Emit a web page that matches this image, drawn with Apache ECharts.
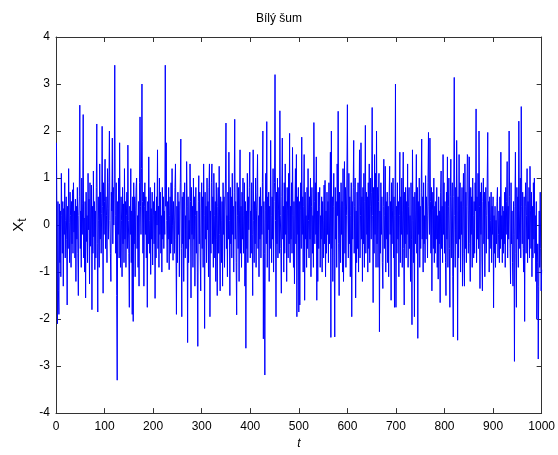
<!DOCTYPE html>
<html>
<head>
<meta charset="utf-8">
<script src="https://cdn.jsdelivr.net/npm/echarts@6/dist/echarts.min.js"></script>
<style>html,body{margin:0;padding:0;background:#fff}#c{width:558px;height:455px}</style>
</head>
<body>
<div id="c"></div>
<script>
var titleText = 'Bílý šum';
var xTicks = [0,100,200,300,400,500,600,700,800,900,1000];
var yTicks = [-4,-3,-2,-1,0,1,2,3,4];
var xt = [
1.75,-0.4,-2.1,0.5,-1.4,-1.9,0.45,-0.8,0.3,-1.1,1.1,0.2,-0.6,0.5,-1.3,0.35,-0.2,0.9,-0.7,0.1,
0.6,-0.3,-1.7,0.4,-0.5,1.2,0.05,-0.8,0.7,0.2,-0.9,0.5,-0.4,0.75,-0.6,0.9,-0.15,0.3,-0.7,0.55,
-1.2,0.4,-0.3,0.8,-0.6,-1.5,0.2,0.6,2.55,-0.5,0.3,-0.9,1.0,-0.2,0.45,2.35,-0.7,0.15,-1.0,0.5,
-1.55,0.7,-0.35,0.2,-0.8,1.1,-0.1,0.55,-1.25,0.9,-0.45,0.3,0.85,-1.8,0.4,-0.6,1.15,-0.25,0.5,-0.95,
0.3,-0.7,0.8,2.15,-0.4,-1.85,0.6,0.1,-0.9,1.3,-0.3,0.7,-0.6,0.25,2.1,0.4,-1.45,0.9,-0.2,0.5,
1.4,-0.5,0.6,0.2,-0.8,1.2,0.35,-0.3,0.9,2.0,0.1,-0.6,-1.2,0.7,0.3,1.85,-0.4,0.8,0.0,1.0,
3.4,0.2,-0.6,0.9,-1.5,-3.3,0.5,-0.2,1.0,-0.7,1.75,0.3,-0.9,0.6,0.1,-1.1,0.8,-0.4,0.45,-0.8,
1.2,-0.3,0.5,-0.9,0.2,0.7,-0.5,1.7,0.1,-0.6,-1.75,0.4,-0.2,1.2,-0.8,0.3,-1.9,0.6,-2.05,0.9,
-0.4,0.6,-1.1,0.3,0.8,1.0,-0.5,0.2,-0.9,0.5,-1.3,0.9,2.3,0.4,-0.2,1.2,3.0,0.5,-0.6,0.7,
-1.3,0.4,0.9,-0.2,0.6,-0.7,0.3,-1.75,0.5,-0.4,1.45,0.1,-0.6,0.8,-1.05,0.35,-0.3,0.7,-0.85,0.2,
0.5,-0.4,0.9,-1.56,0.3,-0.7,0.6,0.0,1.6,-0.5,0.4,-0.9,1.0,-0.2,0.7,-0.6,0.2,-1.0,0.8,-0.3,
0.6,-0.5,0.3,-0.2,3.4,0.4,1.75,0.1,-0.8,0.5,-0.3,0.8,-0.95,0.2,0.6,-0.6,0.9,-0.4,1.2,0.0,
-0.75,0.5,0.1,-0.6,0.8,1.3,-0.3,-1.9,0.4,-0.8,0.7,-0.2,0.5,-1.1,0.3,0.9,1.83,-0.5,-1.95,0.6,
-0.4,0.7,-1.2,0.3,0.9,-0.7,0.2,-0.5,1.35,0.4,-2.5,0.6,-0.8,0.1,-0.3,1.3,0.5,-1.55,0.8,-0.2,
0.4,-0.9,1.0,-0.3,0.6,-1.3,0.2,0.8,-0.6,0.3,-1.0,-2.58,0.5,1.05,-0.4,0.7,-0.7,-1.4,0.3,0.9,
-0.5,0.6,-0.9,1.3,0.2,-2.2,0.7,-0.3,0.4,-0.8,1.0,-0.1,0.5,-1.1,0.8,1.3,-1.95,0.3,-0.6,0.9,
1.3,-0.4,0.6,-0.9,1.1,0.2,-0.7,0.5,-1.2,0.9,-0.3,-1.5,0.4,0.8,-0.6,1.25,-0.2,-1.4,0.6,0.1,
-0.8,0.5,-1.3,0.9,-0.2,0.6,-0.9,0.3,1.0,2.17,-0.5,0.2,-1.1,0.7,-0.3,1.55,0.1,-1.5,0.8,-0.4,
0.6,-0.7,1.1,-0.2,0.4,-1.0,0.7,2.25,-0.3,0.5,-0.8,-1.91,0.9,0.2,-0.5,0.8,-1.2,0.3,1.6,-0.6,
0.4,-0.9,0.7,-0.3,1.0,-0.6,0.2,0.9,-1.3,0.5,-2.62,0.3,-0.5,1.1,-0.8,0.6,-0.1,0.8,1.55,-0.7,
0.3,-0.6,0.9,-0.2,-1.5,1.6,0.1,-0.8,0.5,-0.4,1.0,-0.9,0.3,0.7,1.5,-0.5,0.2,-1.1,0.6,-0.3,
0.8,-0.7,0.4,-0.2,0.9,2.0,-2.42,0.5,-0.6,-3.19,0.3,1.1,-0.4,2.2,-0.9,0.6,-0.1,0.7,-1.2,0.4,
-0.5,1.8,0.2,-0.8,0.6,-0.3,1.2,-1.0,0.5,0.9,3.2,0.1,-1.95,0.7,-0.4,1.0,-0.7,0.3,0.8,-0.6,
2.43,0.2,-0.5,-1.45,0.6,1.85,-0.3,0.4,-1.0,0.9,-0.6,1.3,-0.2,0.5,-1.2,0.8,0.3,-0.7,1.1,-0.4,
1.95,-0.8,0.4,-0.3,0.9,-0.6,1.65,0.2,-0.9,0.5,-1.25,0.3,1.2,-0.4,1.5,-1.95,0.6,-0.2,0.8,-1.85,
0.5,-1.7,0.3,0.9,-0.5,1.87,-0.2,0.6,-1.0,0.4,1.5,-1.6,0.7,-0.3,0.2,-0.9,0.8,-0.5,1.2,0.1,
-0.7,0.6,-0.3,1.0,-1.1,0.4,0.8,-0.6,0.2,-0.9,2.18,0.5,-0.4,0.9,-0.2,1.45,-1.6,0.3,-1.2,0.7,
-0.5,0.4,0.8,-0.9,0.2,-0.3,0.6,-1.0,0.5,0.1,-0.7,0.85,-0.4,0.95,-1.1,0.3,-0.6,0.7,-0.2,0.5,
-0.8,0.9,-0.4,0.3,1.55,-2.39,2.0,-0.5,0.6,-1.2,0.4,1.1,-0.7,-2.38,0.8,-0.3,0.5,-0.9,1.3,0.2,
2.42,-0.4,-1.5,0.7,0.3,-0.8,0.9,-0.2,0.5,-1.0,1.2,-1.2,0.4,1.35,-0.6,0.8,-0.9,0.2,1.0,2.56,
0.3,-0.7,1.1,-0.4,0.6,-1.1,0.2,0.9,-1.95,0.5,-0.3,0.8,1.8,-0.6,0.4,1.0,-1.55,0.3,-0.8,0.7,
-0.5,0.9,-1.0,0.4,1.6,-0.7,0.2,1.75,-0.3,0.6,-1.2,0.8,-0.4,1.1,-0.9,0.5,2.12,-0.6,0.7,-0.2,
0.6,-1.0,0.9,-0.5,1.3,-0.8,0.4,1.0,-0.3,0.7,2.5,0.2,-1.65,0.8,-0.6,1.5,-0.2,1.1,-0.9,2.0,
-0.4,0.8,-0.9,0.5,1.1,-2.27,0.3,-0.6,0.9,-0.2,0.6,-0.8,-1.35,0.4,1.4,-0.5,0.2,1.25,-1.0,0.5,
-0.3,0.7,-0.8,0.4,-1.1,0.6,1.25,-0.2,0.5,-1.6,0.9,-0.4,0.3,1.0,-0.7,0.6,-1.75,0.2,3.0,-1.75,
0.4,-0.6,0.9,-0.3,0.5,-1.1,0.2,1.55,-0.8,0.6,-0.2,1.0,-0.9,0.3,1.55,-0.5,-1.7,0.7,-0.4,0.8,
-0.7,0.5,-0.2,1.3,-0.9,0.4,0.8,-0.5,0.2,-1.2,0.9,-0.3,-2.12,1.6,0.1,-0.8,0.6,-1.95,0.7,-0.4,
0.3,1.5,-0.6,0.8,-2.41,0.5,-0.2,1.0,-0.9,0.4,-0.5,0.7,1.83,-0.3,0.6,-1.0,0.9,-0.4,0.2,-0.8,
1.05,-0.3,0.6,0.2,-0.7,0.9,1.97,0.4,-0.2,1.85,0.5,-0.6,0.8,-1.4,0.3,0.7,-0.5,1.0,-0.8,0.4,
-0.6,0.5,-0.3,0.8,-0.9,0.2,-1.15,0.6,-0.4,0.3,-1.65,0.7,1.15,-0.5,0.4,-0.8,1.5,-0.2,0.9,-0.6,
0.5,-0.8,-1.5,0.7,-0.3,1.45,-0.9,0.4,1.0,-0.5,-1.75,0.6,1.4,-0.7,0.3,0.9,-1.1,-2.38,0.6,3.14,
0.2,-0.9,0.8,-0.4,1.8,0.3,-2.45,0.6,-0.7,1.5,-0.3,0.9,-1.0,0.5,-0.2,0.8,-1.3,0.4,1.1,-0.6,
-1.3,1.3,-0.5,0.7,-0.8,0.4,1.5,1.45,-0.6,0.3,1.45,-0.4,-1.2,0.8,-0.2,0.6,-0.9,1.0,0.2,-0.7,
0.5,-0.6,0.9,0.3,2.47,-0.8,0.6,-0.3,1.1,-0.5,2.0,0.4,-1.35,0.7,-0.2,0.9,-0.7,-1.4,0.5,1.0,
-0.4,0.7,-1.1,0.3,0.8,-0.6,0.2,1.0,1.97,-0.3,0.5,-1.0,0.6,-0.5,0.1,0.7,-0.8,0.4,-0.2,0.6,
-1.76,0.2,-0.6,0.4,-0.9,0.1,-0.4,0.5,0.8,-0.7,-0.2,0.3,-0.8,0.6,-0.5,1.55,-0.3,0.2,-0.8,0.4,
-0.6,0.3,-0.4,0.7,-0.9,0.8,-0.2,0.5,1.35,-0.7,0.4,-0.3,2.0,0.6,-0.5,-1.25,0.9,-0.4,0.3,-0.8,
-1.3,0.5,-0.2,-2.9,0.4,1.55,-0.6,-1.75,0.8,-0.3,0.6,-0.9,2.21,0.3,-0.5,1.0,-0.7,2.52,0.4,-0.4,
0.7,-0.5,-1.0,0.6,-2.05,0.4,0.9,-0.6,0.2,1.2,-0.8,0.5,-0.3,0.8,-0.7,1.25,0.3,-0.5,0.7,-1.1,
0.4,-0.7,0.9,-0.3,1.0,-0.6,0.2,-1.2,0.5,-2.0,-0.8,-0.4,-2.85,-1.3,0.3,-0.9,0.7,-0.5,-1.4,-0.95
];

var seriesData = xt.map(function (v, i) { return [i + 1, v]; });
var lab = { color: '#000', fontFamily: "'Liberation Sans Narrow', 'Liberation Sans', Arial, sans-serif", fontSize: 12 };
var axisCol = '#333';
function plain(v) { return String(v); }
function xa(pos, show) {
  return {
    type: 'value', position: pos, min: xTicks[0], max: xTicks[xTicks.length - 1], interval: 100,
    axisLine: { show: true, onZero: false, lineStyle: { color: axisCol, width: 1 } },
    axisTick: { show: true, inside: true, length: 5, lineStyle: { color: axisCol } },
    axisLabel: Object.assign({ show: show, margin: 8, formatter: plain }, lab),
    splitLine: { show: false }
  };
}
function ya(pos, show) {
  return {
    type: 'value', position: pos, min: yTicks[0], max: yTicks[yTicks.length - 1], interval: 1,
    axisLine: { show: true, onZero: false, lineStyle: { color: axisCol, width: 1 } },
    axisTick: { show: true, inside: true, length: 5, lineStyle: { color: axisCol } },
    axisLabel: Object.assign({ show: show, margin: 6, formatter: plain }, lab),
    splitLine: { show: false }
  };
}
var xBottom = xa('bottom', true);
xBottom.name = 't';
xBottom.nameLocation = 'middle';
xBottom.nameGap = 20;
xBottom.nameTextStyle = { color: '#000', fontStyle: 'italic', fontSize: 12, fontFamily: "'Liberation Sans', Arial, sans-serif" };
var yLeft = ya('left', true);
yLeft.name = '{x|X}{s|t}';
yLeft.nameLocation = 'middle';
yLeft.nameGap = 26;
yLeft.nameTextStyle = {
  color: '#000', fontFamily: "'Liberation Sans', Arial, sans-serif",
  rich: {
    x: { fontSize: 15, color: '#000', fontFamily: "'Liberation Sans', Arial, sans-serif" },
    s: { fontSize: 12, color: '#000', verticalAlign: 'bottom', padding: [8, 0, 0, 0], fontFamily: "'Liberation Sans', Arial, sans-serif" }
  }
};
var chart = echarts.init(document.getElementById('c'), null, { renderer: 'canvas' });
chart.setOption({
  animation: false,
  backgroundColor: '#fff',
  title: {
    text: titleText, left: 'center', top: 8,
    textStyle: { fontSize: 12, fontWeight: 'normal', color: '#000', fontFamily: "'Liberation Sans', Arial, sans-serif" }
  },
  grid: { left: 56, right: 15, top: 37, bottom: 36, containLabel: false },
  xAxis: [xBottom, xa('top', false)],
  yAxis: [yLeft, ya('right', false)],
  series: [{
    type: 'line', data: seriesData, xAxisIndex: 0, yAxisIndex: 0,
    showSymbol: false, symbol: 'none', sampling: null,
    lineStyle: { color: '#0000ff', width: 1 }, itemStyle: { color: '#0000ff' }
  }]
});
</script>
</body>
</html>
